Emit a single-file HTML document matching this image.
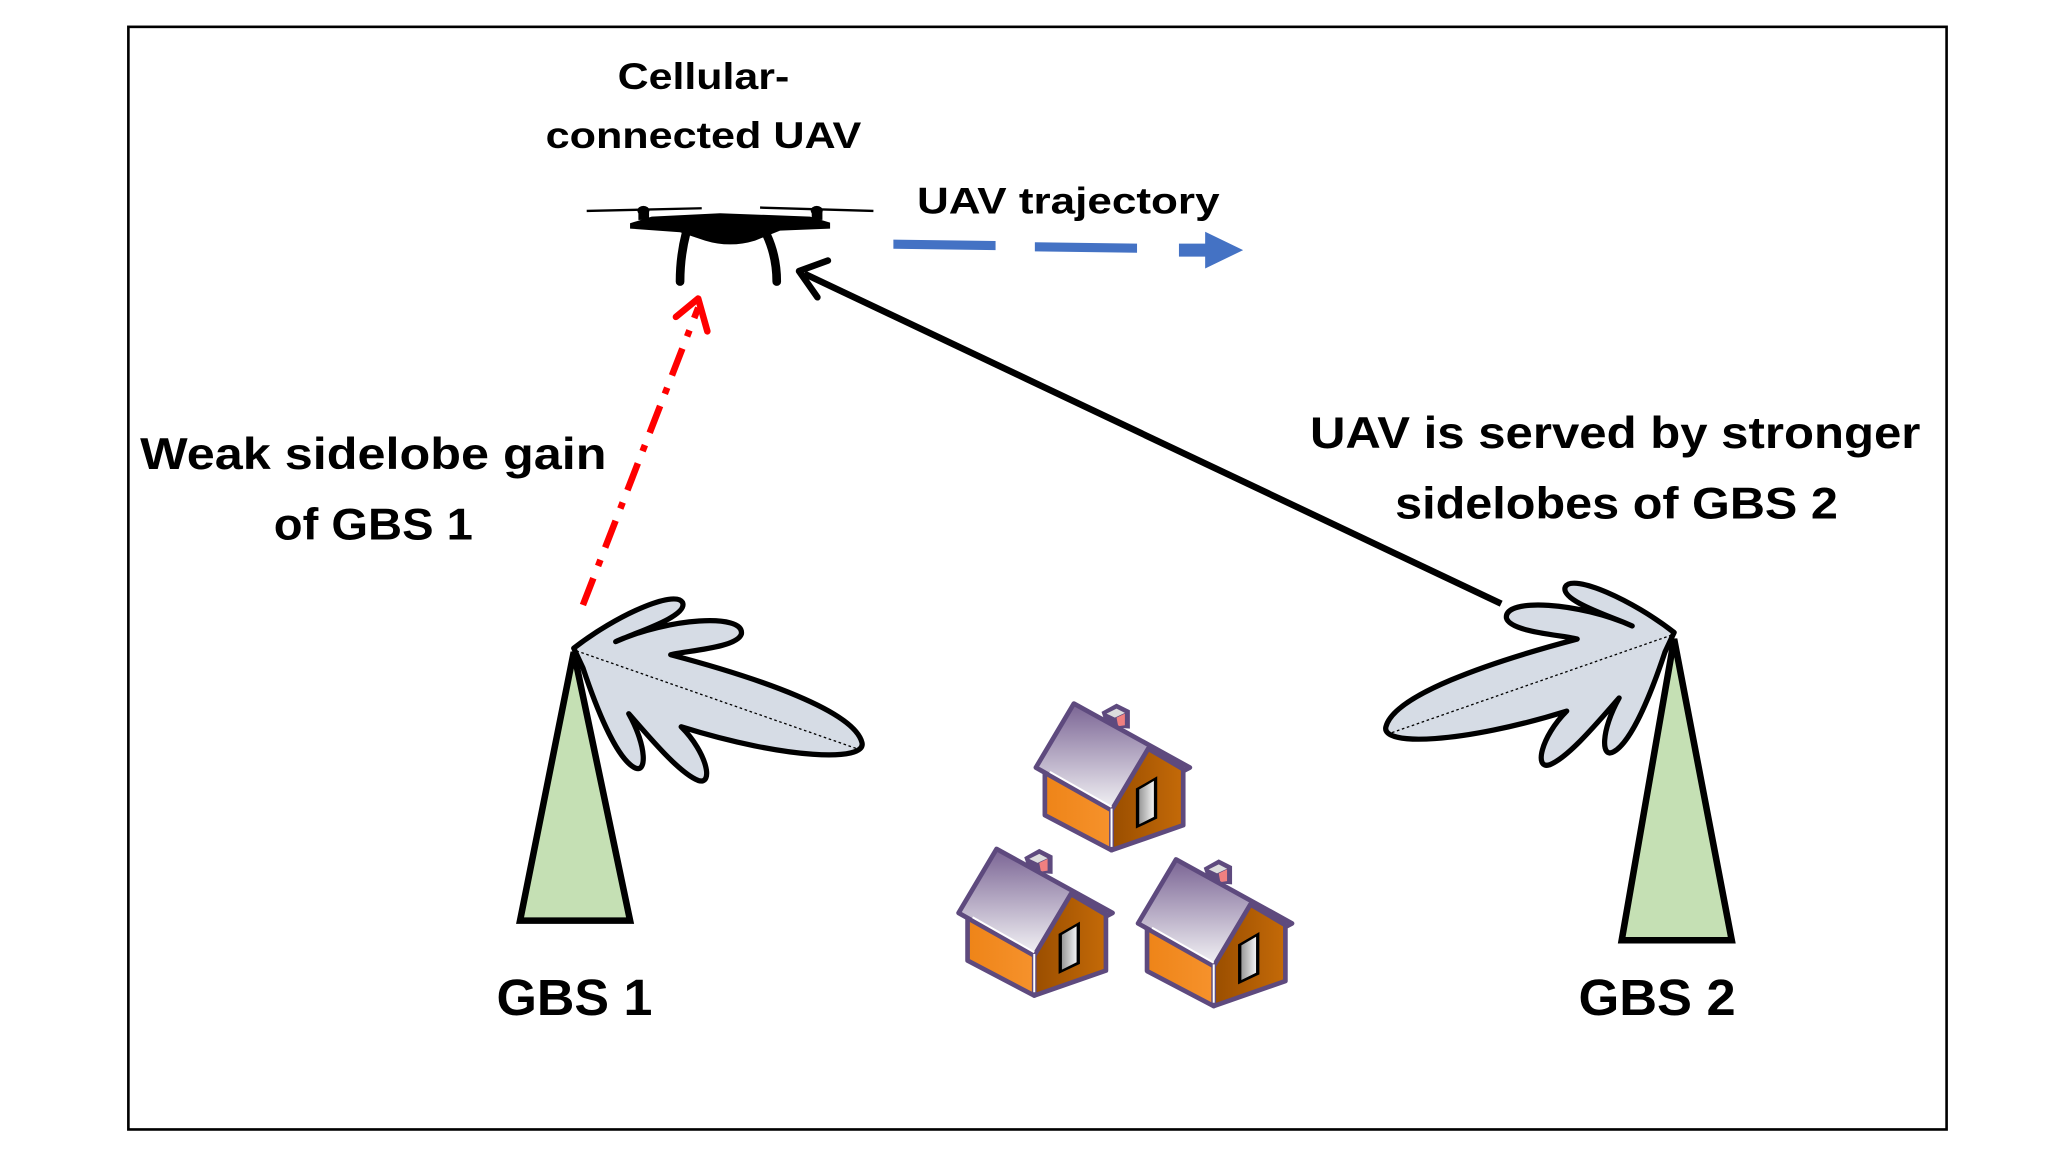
<!DOCTYPE html>
<html><head><meta charset="utf-8"><style>
html,body{margin:0;padding:0;background:#fff;}
svg{display:block;}
text{font-family:"Liberation Sans",sans-serif;font-weight:bold;fill:#000;}
</style></head><body>
<svg width="2054" height="1155" viewBox="0 0 1568 882" preserveAspectRatio="none" xmlns="http://www.w3.org/2000/svg">
<defs>
<linearGradient id="roof" x1="0" y1="0" x2="0" y2="1"><stop offset="0" stop-color="#7a6494"/><stop offset="1" stop-color="#f4f4f6"/></linearGradient>
<linearGradient id="wallL" x1="0" y1="0" x2="1" y2="0"><stop offset="0" stop-color="#ee8418"/><stop offset="1" stop-color="#f6922c"/></linearGradient>
<linearGradient id="wallR" x1="0" y1="0" x2="1" y2="0"><stop offset="0" stop-color="#9a4e00"/><stop offset="1" stop-color="#c46a08"/></linearGradient>
<linearGradient id="door" x1="0" y1="0" x2="1" y2="0"><stop offset="0" stop-color="#999"/><stop offset="1" stop-color="#f2f2f2"/></linearGradient>
<g id="house">
  <polygon points="455,65 500,40 540,60 540,115 470,110" fill="#5e4a7e"/>
  <polygon points="470,70 500,55 525,68 495,82" fill="#ddd"/>
  <polygon points="500,82 525,70 525,105 505,108" fill="#f08080"/>
  <polygon points="285,245 485,355 485,480 285,375" fill="url(#wallL)" stroke="#5e4a7e" stroke-width="14" stroke-linejoin="round"/>
  <polygon points="485,355 595,175 700,235 700,405 485,480" fill="url(#wallR)" stroke="#5e4a7e" stroke-width="14" stroke-linejoin="round"/>
  <polygon points="258,232 372,40 720,232 705,240 595,175 485,360" fill="url(#roof)" stroke="#5e4a7e" stroke-width="14" stroke-linejoin="round"/>
  <line x1="300" y1="245" x2="485" y2="350" stroke="#fff" stroke-width="6"/>
  <line x1="485" y1="355" x2="485" y2="470" stroke="#fff" stroke-width="6"/>
  <polygon points="558,295 622,258 622,385 558,415" fill="#000"/>
  <polygon points="568,298 612,272 612,380 568,402" fill="url(#door)"/>
</g>
</defs>
<rect x="98" y="20.5" width="1388" height="842" fill="none" stroke="#000" stroke-width="2"/>

<text x="537" y="68" font-size="28" text-anchor="middle" textLength="131" lengthAdjust="spacingAndGlyphs">Cellular-</text>
<text x="537" y="113" font-size="28" text-anchor="middle" textLength="241" lengthAdjust="spacingAndGlyphs">connected UAV</text>
<text x="700" y="163" font-size="28" textLength="231" lengthAdjust="spacingAndGlyphs">UAV trajectory</text>
<text x="107" y="358" font-size="34" textLength="356" lengthAdjust="spacingAndGlyphs">Weak sidelobe gain</text>
<text x="209" y="412" font-size="34" textLength="152" lengthAdjust="spacingAndGlyphs">of GBS 1</text>
<text x="1000" y="342" font-size="34" textLength="466" lengthAdjust="spacingAndGlyphs">UAV is served by stronger</text>
<text x="1065" y="396" font-size="34" textLength="338" lengthAdjust="spacingAndGlyphs">sidelobes of GBS 2</text>
<text x="379" y="775" font-size="39" textLength="119" lengthAdjust="spacingAndGlyphs">GBS 1</text>
<text x="1205" y="775" font-size="39" textLength="120" lengthAdjust="spacingAndGlyphs">GBS 2</text>

<!-- drone -->
<g transform="translate(442.8,137.4) scale(0.2545)">
  <line x1="20" y1="93" x2="365" y2="85" stroke="#000" stroke-width="7"/>
  <line x1="540" y1="83" x2="880" y2="93" stroke="#000" stroke-width="7"/>
  <ellipse cx="190" cy="92" rx="18" ry="14"/>
  <ellipse cx="710" cy="92" rx="18" ry="14"/>
  <rect x="175" y="95" width="32" height="25"/>
  <rect x="695" y="95" width="32" height="25"/>
  <path d="M150,130 L215,110 L420,100 L690,110 L750,128 L750,146 L600,152 L525,182 Q450,205 375,182 L300,157 L150,146 Z"/>
  <path d="M318,160 Q300,230 300,305" stroke="#000" stroke-width="26" fill="none" stroke-linecap="round"/>
  <path d="M560,165 Q590,230 590,305" stroke="#000" stroke-width="26" fill="none" stroke-linecap="round"/>
</g>

<!-- blue trajectory -->
<g fill="#4472c4">
  <polygon points="682,183 760,184 760,191 682,190"/>
  <polygon points="790,185 868,186 868,193 790,192"/>
  <polygon points="900,186 920,186 920,177 949,191 920,205 920,196 900,196"/>
</g>

<!-- black arrow -->
<line x1="1146" y1="461" x2="614" y2="209" stroke="#000" stroke-width="5"/>
<polyline points="632,199 610,207 624,227" fill="none" stroke="#000" stroke-width="5" stroke-linecap="round" stroke-linejoin="round"/>

<!-- red arrow -->
<line x1="445" y1="462" x2="533" y2="235" stroke="#ff0000" stroke-width="5" stroke-dasharray="22,10,5,10"/>
<polyline points="516,242 533,228 540,253" fill="none" stroke="#ff0000" stroke-width="5" stroke-linecap="round" stroke-linejoin="round"/>

<!-- GBS1 -->
<g id="lobes1">
<path d="M438,495 C470,470 515,450 521,460 C526,471 482,484 470,490 C510,472 568,468 566,484 C563,495 522,497 512,500 C580,518 652,543 658,567 C662,582 600,580 520,555 C540,575 545,600 533,596 C518,590 495,562 480,545 C494,570 494,592 484,586 C470,578 455,540 445,510 Z" fill="#d6dce5" stroke="#000" stroke-width="4" stroke-linejoin="round"/>
<line x1="440" y1="497" x2="655" y2="572" stroke="#000" stroke-width="1" stroke-dasharray="2,2"/>
</g>
<polygon points="438,498 397,703 481,703" fill="#c5e0b4" stroke="#000" stroke-width="5"/>

<!-- GBS2 -->
<g transform="translate(1716,-12) scale(-1,1)">
<path d="M438,495 C470,470 515,450 521,460 C526,471 482,484 470,490 C510,472 568,468 566,484 C563,495 522,497 512,500 C580,518 652,543 658,567 C662,582 600,580 520,555 C540,575 545,600 533,596 C518,590 495,562 480,545 C494,570 494,592 484,586 C470,578 455,540 445,510 Z" fill="#d6dce5" stroke="#000" stroke-width="4" stroke-linejoin="round"/>
<line x1="440" y1="497" x2="655" y2="572" stroke="#000" stroke-width="1" stroke-dasharray="2,2"/>
</g>
<polygon points="1278,488 1238,718 1322,718" fill="#c5e0b4" stroke="#000" stroke-width="5"/>

<!-- houses -->
<use href="#house" transform="translate(790,536) scale(0.2545) translate(-255,-35)"/>
<use href="#house" transform="translate(731,647) scale(0.2545) translate(-255,-35)"/>
<use href="#house" transform="translate(868,655) scale(0.2545) translate(-255,-35)"/>
</svg>
</body></html>
